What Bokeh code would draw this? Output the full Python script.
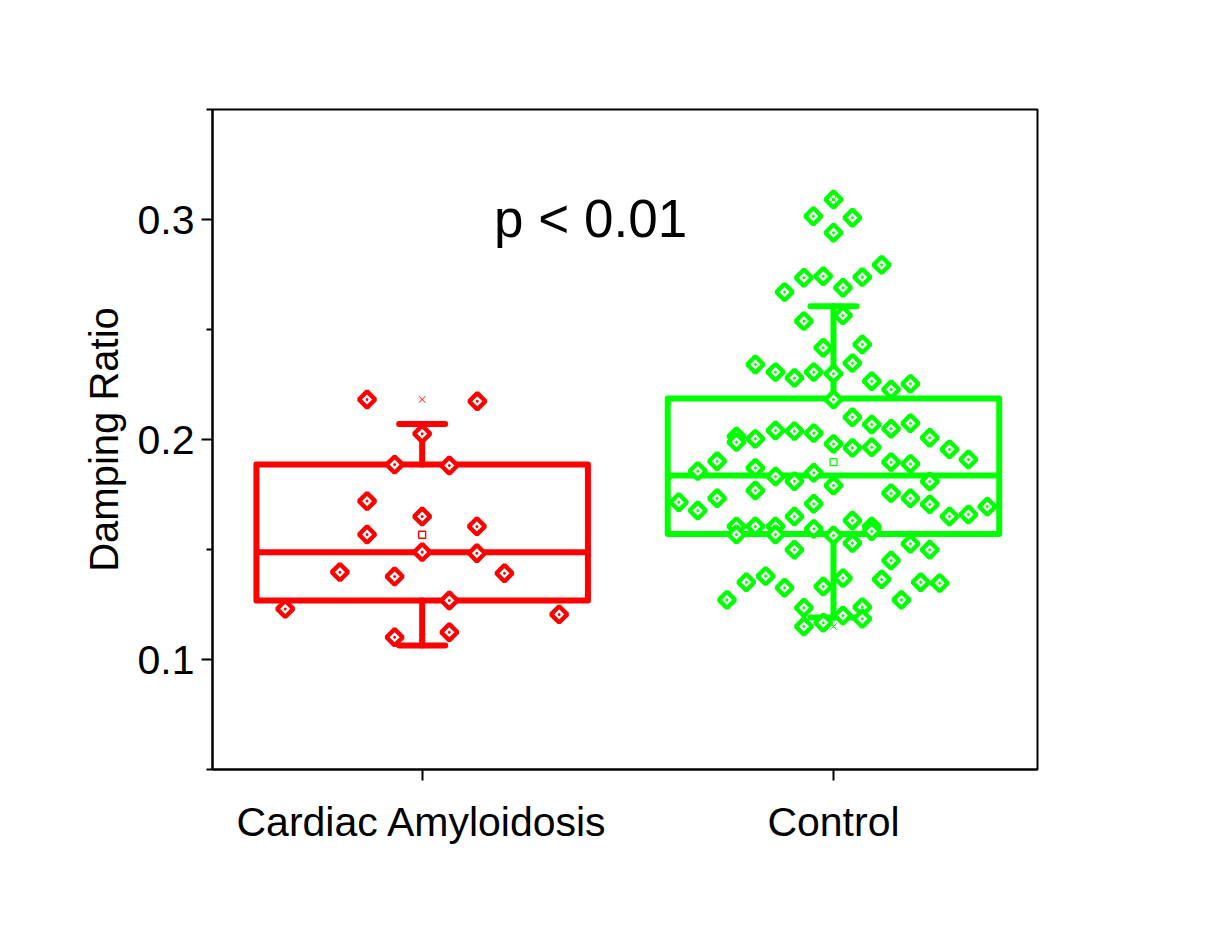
import numpy as np
from bokeh.plotting import figure
from bokeh.models import FixedTicker, Range1d, Label
from bokeh.embed import file_html
from bokeh.resources import INLINE

# ---------------- data ----------------
groups = ["Cardiac Amyloidosis", "Control"]
group_pos = [1, 2]

ca_x = [0.866, 1.134, 1.000, 0.933, 1.066, 0.866, 1.000, 1.133, 0.866, 1.000,
        1.133, 0.800, 0.933, 1.200, 0.667, 1.066, 1.333, 0.933, 1.066]
ca_y = [0.2182, 0.2174, 0.2026, 0.1886, 0.1882, 0.1720, 0.1650, 0.1605, 0.1568, 0.1488,
        0.1483, 0.1397, 0.1377, 0.1392, 0.1230, 0.1268, 0.1205, 0.1101, 0.1124]

ctrl_x = [2.000, 1.951, 2.046, 2.000, 2.117, 1.928, 1.975, 2.070, 1.881, 2.023,
          2.023, 1.928, 1.975, 2.070, 1.810, 1.859, 1.905, 1.952, 2.000, 2.046,
          2.093, 2.140, 2.187, 2.000, 2.046, 2.093, 2.140, 2.187, 1.764, 1.764,
          1.810, 1.859, 1.905, 1.952, 2.000, 2.046, 2.093, 2.234, 2.282, 2.328,
          1.717, 1.670, 1.810, 1.859, 1.905, 1.952, 2.140, 2.187, 2.000, 2.234,
          1.624, 1.670, 1.717, 1.810, 1.952, 2.140, 2.187, 2.234, 2.282, 2.328,
          2.374, 1.905, 2.046, 2.093, 2.093, 1.764, 1.764, 1.810, 1.859, 1.859,
          1.952, 2.000, 2.046, 2.187, 2.234, 1.905, 2.140, 1.788, 1.835, 1.881,
          1.741, 1.975, 2.023, 2.117, 2.212, 2.258, 2.165, 1.928, 2.070, 2.023,
          2.070, 1.975, 1.928]
ctrl_y = [0.3091, 0.3015, 0.3008, 0.2940, 0.2794, 0.2735, 0.2742, 0.2738, 0.2670, 0.2690,
          0.2564, 0.2538, 0.2417, 0.2432, 0.2341, 0.2306, 0.2280, 0.2306, 0.2299, 0.2347,
          0.2265, 0.2227, 0.2253, 0.2182, 0.2101, 0.2068, 0.2049, 0.2074, 0.2014, 0.1988,
          0.2003, 0.2041, 0.2038, 0.2029, 0.1980, 0.1962, 0.1965, 0.2008, 0.1955, 0.1909,
          0.1901, 0.1856, 0.1871, 0.1832, 0.1810, 0.1849, 0.1897, 0.1889, 0.1791, 0.1809,
          0.1715, 0.1677, 0.1733, 0.1768, 0.1708, 0.1756, 0.1733, 0.1705, 0.1650, 0.1659,
          0.1695, 0.1650, 0.1632, 0.1605, 0.1583, 0.1605, 0.1568, 0.1605, 0.1605, 0.1568,
          0.1594, 0.1564, 0.1529, 0.1526, 0.1499, 0.1499, 0.1450, 0.1351, 0.1379, 0.1326,
          0.1271, 0.1332, 0.1370, 0.1364, 0.1351, 0.1347, 0.1271, 0.1235, 0.1238, 0.1200,
          0.1185, 0.1167, 0.1150]

# box statistics
q1 = [0.1268, 0.1571]
median = [0.1488, 0.1836]
q3 = [0.1886, 0.2186]
whisker_lo = [0.1064, 0.1191]
whisker_hi = [0.2071, 0.2606]
mean = [0.1567, 0.1897]
data_min = [min(ca_y), min(ctrl_y)]
data_max = [max(ca_y), max(ctrl_y)]

colors = ["#FF0000", "#00FF00"]
annotation = "p < 0.01"

# ---------------- figure ----------------
FONT = "Liberation Sans"
p = figure(width=1190, height=900, output_backend="svg", toolbar_location=None,
           x_range=Range1d(0.4902, 2.496), y_range=Range1d(0.05, 0.35),
           min_border_left=212, min_border_top=109, min_border_right=153,
           min_border_bottom=131)
p.xgrid.visible = False
p.ygrid.visible = False
p.outline_line_color = "black"
p.outline_line_width = 2
p.background_fill_color = "white"
p.border_fill_color = "white"

for ax in (p.xaxis[0], p.yaxis[0]):
    ax.axis_line_width = 2
    ax.major_tick_line_width = 2
    ax.minor_tick_line_width = 2
    ax.major_tick_in = 0
    ax.major_tick_out = 11
    ax.minor_tick_in = 0
    ax.minor_tick_out = 6
    ax.major_label_text_font = FONT
    ax.major_label_text_color = "black"
    ax.axis_label_text_font = FONT
    ax.axis_label_text_font_style = "normal"
    ax.axis_label_text_color = "black"

p.xaxis.ticker = FixedTicker(ticks=group_pos, minor_ticks=[])
p.xaxis.major_label_overrides = {gp: g for gp, g in zip(group_pos, groups)}
p.xaxis.major_label_text_font_size = "41px"
p.xaxis.major_label_standoff = 18

p.yaxis.ticker = FixedTicker(ticks=[0.1, 0.2, 0.3], minor_ticks=[0.05, 0.15, 0.25, 0.35])
p.yaxis.major_label_text_font_size = "41px"
p.yaxis.major_label_standoff = 7
p.yaxis.axis_label = "Damping Ratio"
p.yaxis.axis_label_text_font_size = "40px"
p.yaxis.axis_label_standoff = 9

BOX_HALF = 0.403
CAP_HALF = 0.056
LW = 6

for i, gp in enumerate(group_pos):
    c = colors[i]
    # whiskers
    p.segment(x0=[gp, gp], y0=[q3[i], q1[i]], x1=[gp, gp], y1=[whisker_hi[i], whisker_lo[i]],
              line_color=c, line_width=LW, line_cap="round")
    p.segment(x0=[gp - CAP_HALF, gp - CAP_HALF], y0=[whisker_hi[i], whisker_lo[i]],
              x1=[gp + CAP_HALF, gp + CAP_HALF], y1=[whisker_hi[i], whisker_lo[i]],
              line_color=c, line_width=LW, line_cap="round")
    # box
    p.quad(left=[gp - BOX_HALF], right=[gp + BOX_HALF], bottom=[q1[i]], top=[q3[i]],
           fill_color=None, line_color=c, line_width=LW, line_join="round")
    # median
    p.segment(x0=[gp - BOX_HALF], y0=[median[i]], x1=[gp + BOX_HALF], y1=[median[i]],
              line_color=c, line_width=LW, line_cap="butt")

# data points
for xs, ys, c in ((ca_x, ca_y, colors[0]), (ctrl_x, ctrl_y, colors[1])):
    p.scatter(x=xs, y=ys, marker="square_dot", size=11.5, angle=np.pi / 4,
              line_color=c, line_width=4.4, fill_color="white")

# mean markers and min/max markers
p.scatter(x=group_pos, y=mean, marker="square", size=7, line_color=colors,
          line_width=1.3, fill_color="white")
p.scatter(x=group_pos, y=data_max, marker="x", size=9, line_color=colors, line_width=1)
p.scatter(x=group_pos, y=data_min, marker="x", size=9, line_color=colors, line_width=1)

p.add_layout(Label(x=1.4095, y=0.3005, text=annotation, text_font=FONT,
                   text_font_size="53px", text_align="center",
                   text_baseline="alphabetic", text_color="black"))

open("out.html", "w").write(file_html(p, INLINE))
